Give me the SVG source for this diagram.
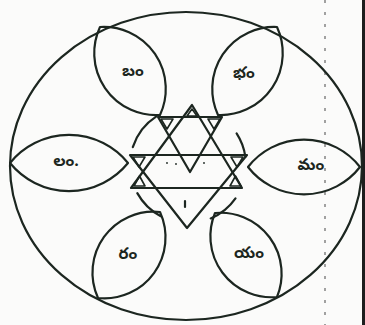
<svg xmlns="http://www.w3.org/2000/svg" width="365" height="325" viewBox="0 0 365 325">
<style>
.ln{fill:none;stroke:#1c2620;stroke-width:2.2;stroke-linejoin:round;stroke-linecap:round}
.sm{fill:none;stroke:#1c2620;stroke-width:1.6;stroke-linejoin:round}
.lb{font-family:"Noto Sans Telugu","Noto Serif Telugu","Lohit Telugu","Pothana2000","Noto Sans",sans-serif;font-size:16px;font-weight:bold;fill:#1c2620;text-anchor:middle;dominant-baseline:central}
</style>
<rect width="365" height="325" fill="#fbfbfa"/>
<line x1="325" y1="0" x2="325" y2="325" stroke="#666" stroke-width="1.2" stroke-dasharray="3 9"/>
<rect x="362" y="0" width="3" height="325" fill="#1e1e1e"/>
<g id="outer-circle"><ellipse class="ln" cx="186" cy="166" rx="176" ry="154"/></g>
<g id="petal-ba"><path class="ln" d="M100,27 A62,62 0 0 1 160,115 A62,62 0 0 1 100,27Z"/><text class="lb" x="133" y="73">బం</text></g>
<g id="petal-bha"><path class="ln" d="M277,27 A62,62 0 0 0 218,115 A62,62 0 0 0 277,27Z"/><text class="lb" x="244" y="75">భం</text></g>
<g id="petal-la"><path class="ln" d="M10,163 A76,76 0 0 1 128,163 A76,76 0 0 1 10,163Z"/><text class="lb" x="66" y="163">లం.</text></g>
<g id="petal-ma"><path class="ln" d="M248,167 A71,71 0 0 1 360,167 A71,71 0 0 1 248,167Z"/><text class="lb" x="311" y="167">మం</text></g>
<g id="petal-ra"><path class="ln" d="M160,212 A61,61 0 0 1 98,298 A61,61 0 0 1 160,212Z"/><text class="lb" x="128" y="256">రం</text></g>
<g id="petal-ya"><path class="ln" d="M215,213 A61,61 0 0 0 277,297 A61,61 0 0 0 215,213Z"/><text class="lb" x="249" y="255">యం</text></g>
<g id="connectors">
<path class="ln" d="M132.8,147.1 A58,58 0 0 1 156.4,116.4"/>
<path class="ln" d="M236.6,133.4 A58,58 0 0 1 245.4,156.9"/>
<path class="ln" d="M160.8,216.2 A58,58 0 0 1 137.3,193.1"/>
<path class="ln" d="M235.5,198.3 A58,58 0 0 1 210.7,218.4"/>
</g>
<g id="star">
<path class="ln" d="M192,105 L131,188 L242,188 Z"/>
<path class="ln" d="M130,155 L247,155 L187,228 Z"/>
<path class="ln" d="M158,117 L222,117 L190,172 Z"/>
<path class="sm" d="M161,119 L173,119 L167,129 Z M208,119 L220,119 L214,129 Z M133,157 L145,157 L139,167 Z M231,157 L243,157 L237,167 Z M134,186 L145,186 L139.5,176 Z M230,186 L241,186 L235.5,176 Z"/>
<path class="sm" d="M187,116 L197,116 L192,109 Z"/>
<path class="ln" d="M185,201 L185,207"/>
<circle cx="167" cy="163" r="0.9" fill="#1c2620"/>
<circle cx="176" cy="164" r="0.9" fill="#1c2620"/>
<circle cx="204" cy="163" r="0.9" fill="#1c2620"/>
</g>
</svg>
